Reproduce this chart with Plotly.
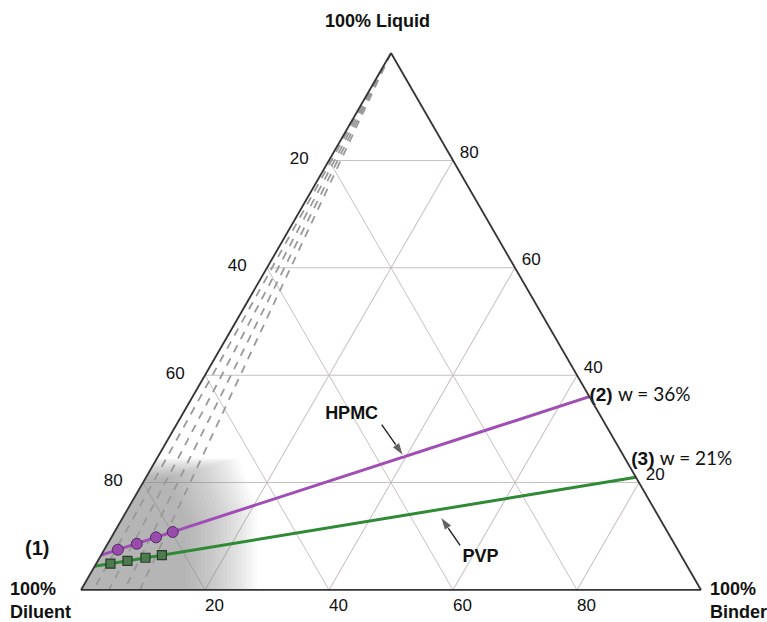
import plotly.graph_objects as go

# Dilution lines: binder % where each constant binder:diluent line meets the base
RADIAL_BINDER = [2.0, 4.5, 7.0, 9.5]

# Operating lines (liquid %, binder %) from the liquid-diluent edge to the liquid-binder edge
HPMC_LIQUID = [6.5, 36.0]
HPMC_BINDER = [0.0, 64.0]
PVP_LIQUID = [4.4, 21.0]
PVP_BINDER = [0.0, 79.0]

# Formulations along each line
HPMC_PTS_LIQUID = [7.5, 8.6, 9.8, 10.8]
HPMC_PTS_BINDER = [2.2, 4.7, 7.2, 9.4]
PVP_PTS_LIQUID = [4.9, 5.4, 6.0, 6.5]
PVP_PTS_BINDER = [2.3, 4.8, 7.4, 9.8]

# Axis ticks (grid every 20 %)
TICKS = [20, 40, 60, 80]

# Soft grey zone near the diluent corner, built from stacked translucent layers
HAZE_LIQUID = [20.8, 21.0, 21.2, 21.4, 21.6, 21.8, 22.0, 22.2, 22.4, 22.6,
               22.8, 23.0, 23.2, 23.4, 23.6, 23.8, 24.0, 24.2, 24.4, 24.6]
HAZE_BINDER = [17.0, 17.6, 18.2, 18.8, 19.4, 20.0, 20.6, 21.2, 21.8, 22.4,
               23.0, 23.6, 24.2, 24.8, 25.4, 26.0, 26.6, 27.2, 27.8, 28.4]

# Arrow callouts (liquid %, binder %): tail then tip
HPMC_ARROW_LIQUID = [30.8, 25.0]
HPMC_ARROW_BINDER = [33.1, 39.5]
PVP_ARROW_LIQUID = [8.3, 13.6]
PVP_ARROW_BINDER = [57.0, 51.2]

FONT = "Liberation Sans, Arial, sans-serif"
PURPLE = "#a04db5"
GREEN = "#2f8a36"
NBSP = "\u00a0"


def dil(liq, binder):
    return [None if l is None else 100 - l - c for l, c in zip(liq, binder)]


fig = go.Figure()

# grey zone
for L, B in zip(HAZE_LIQUID, HAZE_BINDER):
    liq = [0, 0, L * 0.6, L, L, 0]
    bnd = [0, B, B - 0.3 * L, B - 0.5 * L - 3, 0, 0]
    fig.add_trace(go.Scatterternary(
        a=liq, c=bnd, b=dil(liq, bnd), mode="lines", fill="toself",
        fillcolor="rgba(128,128,128,0.045)", line=dict(width=0),
        hoverinfo="skip", showlegend=False))

# dashed dilution lines toward the pure liquid vertex
rl, rc = [], []
for b0 in RADIAL_BINDER:
    rl += [100, 0, None]
    rc += [0, b0, None]
fig.add_trace(go.Scatterternary(
    a=rl, c=rc, b=dil(rl, rc), mode="lines",
    line=dict(color="#999999", width=1.8, dash="8px,7px"),
    hoverinfo="skip", showlegend=False))

# operating lines
fig.add_trace(go.Scatterternary(
    a=HPMC_LIQUID, c=HPMC_BINDER, b=dil(HPMC_LIQUID, HPMC_BINDER),
    mode="lines", line=dict(color=PURPLE, width=3), showlegend=False))
fig.add_trace(go.Scatterternary(
    a=PVP_LIQUID, c=PVP_BINDER, b=dil(PVP_LIQUID, PVP_BINDER),
    mode="lines", line=dict(color=GREEN, width=3), showlegend=False))

# measured formulations
fig.add_trace(go.Scatterternary(
    a=HPMC_PTS_LIQUID, c=HPMC_PTS_BINDER, b=dil(HPMC_PTS_LIQUID, HPMC_PTS_BINDER),
    mode="markers", marker=dict(symbol="circle", size=11, color="#9a4cae",
                                line=dict(color="#503058", width=1)),
    showlegend=False))
fig.add_trace(go.Scatterternary(
    a=PVP_PTS_LIQUID, c=PVP_PTS_BINDER, b=dil(PVP_PTS_LIQUID, PVP_PTS_BINDER),
    mode="markers", marker=dict(symbol="square", size=9, color="#4c7c4e",
                                line=dict(color="#2c3a2c", width=1.2)),
    showlegend=False))

# arrow callouts
for al, ac in [(HPMC_ARROW_LIQUID, HPMC_ARROW_BINDER), (PVP_ARROW_LIQUID, PVP_ARROW_BINDER)]:
    fig.add_trace(go.Scatterternary(
        a=al, c=ac, b=dil(al, ac), mode="lines+markers",
        line=dict(color="#222222", width=1.4),
        marker=dict(symbol="arrow", size=[0, 14], angleref="previous", color="#222222"),
        hoverinfo="skip", showlegend=False))

# line labels
fig.add_trace(go.Scatterternary(
    a=[32.7, 6.1], c=[27.3, 61.4], b=dil([32.7, 6.1], [27.3, 61.4]),
    mode="text", text=["<b>HPMC</b>", "<b>PVP</b>"], textposition="middle center",
    textfont=dict(family=FONT, size=18, color="#111111"),
    cliponaxis=False, hoverinfo="skip", showlegend=False))

# end-point labels beside the liquid-binder edge
LABEL_LIQUID = [HPMC_LIQUID[-1], PVP_LIQUID[-1] + 3.2]
LABEL_BINDER = [HPMC_BINDER[-1], PVP_BINDER[-1] - 3.2]
fig.add_trace(go.Scatterternary(
    a=LABEL_LIQUID, c=LABEL_BINDER, b=dil(LABEL_LIQUID, LABEL_BINDER),
    mode="text",
    text=[f"<b>(2)</b> <span style='font-family:Lato'>w = {HPMC_LIQUID[-1]:.0f}%</span>",
          f"{NBSP}<b>(3)</b> <span style='font-family:Lato'>w = {PVP_LIQUID[-1]:.0f}%</span>"],
    textposition="middle right",
    textfont=dict(family=FONT, size=19, color="#111111"),
    cliponaxis=False, hoverinfo="skip", showlegend=False))


def axis(ticklen, pad=""):
    return dict(
        min=0, tickvals=TICKS, ticktext=[pad + str(100 - t) for t in TICKS],
        ticks="outside" if ticklen else "", ticklen=ticklen, tickcolor="rgba(0,0,0,0)",
        tickfont=dict(family=FONT, size=17, color="#111111"),
        showgrid=True, gridcolor="#c6c0be", gridwidth=1,
        linecolor="#333333", linewidth=1.8, title=dict(text=""))


def label(text, x, y, size=18, xanchor="center", yanchor="middle", align="center"):
    return dict(text=text, x=x / 767, y=1 - y / 622, xref="paper", yref="paper",
                xanchor=xanchor, yanchor=yanchor, align=align, showarrow=False,
                font=dict(family=FONT, size=size, color="#111111"))


fig.update_layout(
    width=767, height=622,
    margin=dict(l=0, r=0, t=0, b=0),
    paper_bgcolor="white",
    ternary=dict(
        sum=100, bgcolor="white",
        domain=dict(x=[81 / 767, 701 / 767], y=[32 / 622, 569 / 622]),
        aaxis=axis(17), baxis=axis(0, NBSP * 4), caxis=axis(7)),
    font=dict(family=FONT),
    annotations=[
        label("<b>100% Liquid</b>", 377, 21),
        label("<b>100%<br>Diluent</b>", 8, 577, xanchor="left", yanchor="top", align="left"),
        label("<b>100%<br>Binder</b>", 708, 577, xanchor="left", yanchor="top", align="left"),
        label("<b>(1)</b>", 37, 548, size=20),
    ],
)

fig.write_html("out.html")
